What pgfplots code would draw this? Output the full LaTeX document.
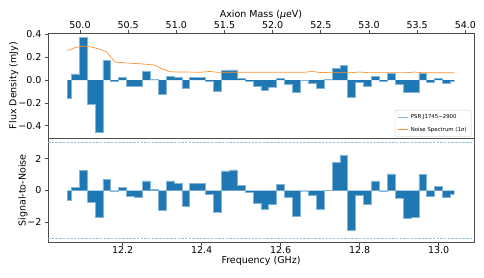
\documentclass[border=0pt]{standalone}
\usepackage{fontspec}
\setmainfont{DejaVu Sans}
\usepackage{pgfplots}
\pgfplotsset{compat=1.18}
\usepackage{pgfplotstable}
\definecolor{cz}{HTML}{1F77B4}
\definecolor{co}{HTML}{FF7F0E}

\pgfplotstableread{
f flux snr noise
12.06 -0.160 -0.62 0.257
12.08 0.053 0.20 0.285
12.10 0.375 1.27 0.298
12.12 -0.213 -0.72 0.290
12.14 -0.462 -1.69 0.272
12.16 0.172 0.70 0.245
12.18 -0.015 -0.07 0.158
12.20 0.023 0.20 0.152
12.22 -0.055 -0.35 0.147
12.24 -0.055 -0.41 0.143
12.26 0.076 0.60 0.138
12.28 0.005 0.07 0.132
12.30 -0.130 -1.27 0.098
12.32 0.035 0.60 0.073
12.34 0.020 0.43 0.070
12.36 -0.073 -0.97 0.070
12.38 0.025 0.47 0.069
12.40 0.025 0.47 0.069
12.42 -0.015 -0.22 0.075
12.44 -0.096 -1.35 0.068
12.46 0.085 1.23 0.068
12.48 0.088 1.29 0.068
12.50 0.015 0.32 0.068
12.52 -0.015 -0.14 0.068
12.54 -0.058 -0.80 0.068
12.56 -0.088 -1.16 0.068
12.58 -0.061 -0.87 0.068
12.60 0.015 0.39 0.068
12.62 -0.035 -0.45 0.068
12.64 -0.111 -1.62 0.068
12.66 -0.005 -0.03 0.068
12.68 -0.030 -0.30 0.075
12.70 -0.076 -1.18 0.066
12.72 0.002 0.03 0.065
12.74 0.102 1.75 0.065
12.76 0.130 2.19 0.065
12.78 -0.155 -2.48 0.065
12.80 -0.023 -0.28 0.070
12.82 -0.058 -0.87 0.065
12.84 0.030 0.60 0.065
12.86 -0.010 -0.07 0.065
12.88 0.055 1.04 0.065
12.90 -0.035 -0.47 0.065
12.92 -0.111 -1.77 0.065
12.94 -0.111 -1.67 0.070
12.96 0.055 1.00 0.064
12.98 -0.023 -0.37 0.064
13.00 0.012 0.24 0.064
13.02 -0.029 -0.41 0.064
13.04 -0.015 -0.24 0.064
}\data

\begin{document}
\begin{tikzpicture}
\path[use as bounding box] (0pt,0pt) rectangle (484pt,277pt);
\pgfplotsset{every axis/.append style={
  scale only axis, width=426pt,
  font=\fontsize{9.5}{11}\selectfont,
  axis line style={black!70, line width=0.7pt},
  tick style={black!70, line width=0.7pt},
  tick align=outside, major tick length=3.5pt,
  xmin=12.0109, xmax=13.0894}}
% top panel
\begin{axis}[at={(48pt,139pt)}, anchor=south west, height=105pt,
  ymin=-0.508, ymax=0.412,
  xtick=\empty, ytick pos=left,
  ytick={-0.4,-0.2,0,0.2,0.4},
  yticklabels={−0.4,−0.2,0.0,0.2,0.4},
  yticklabel style={inner sep=0pt, xshift=-2.8pt},
  ylabel={Flux Density (mJy)},
  ylabel style={at={(axis description cs:-0.0805,0.5)}, anchor=center, inner sep=0pt},
  legend style={at={(0.9937,0.0124)}, anchor=south east,
    font=\fontsize{5.4}{6.5}\selectfont, draw=black!20, rounded corners=1.5pt,
    inner xsep=2.5pt, inner ysep=2pt, row sep=3.2pt},
  legend cell align=left,
  legend image code/.code={\draw[#1] (0pt,0pt) -- (10.5pt,0pt);}]
\addplot[const plot mark mid, fill=cz, draw=none, forget plot] table[x=f,y=flux]{\data} \closedcycle;
\addplot[const plot mark mid, cz!55, line width=0.8pt] table[x=f,y=flux]{\data};
\addlegendentry{PSR J1745−2900}
\addplot[co!85, line width=0.7pt] table[x=f,y=noise]{\data};
\addlegendentry{Noise Spectrum (1\textit{σ})}
\end{axis}
% mass axis
\begin{axis}[at={(48pt,139pt)}, anchor=south west, height=105pt,
  xmin=49.668, xmax=54.09, ymin=0, ymax=1,
  axis x line*=top, axis y line=none,
  xtick={50,50.5,51,51.5,52,52.5,53,53.5,54},
  xticklabels={50.0,50.5,51.0,51.5,52.0,52.5,53.0,53.5,54.0},
  xticklabel style={inner sep=0pt, yshift=1pt},
  xlabel={Axion Mass (\textit{μ}eV)},
  xlabel style={at={(axis description cs:0.5,1.1686)}, anchor=center, inner sep=0pt}]
\addplot[draw=none] coordinates {(50,0.5)};
\end{axis}
% bottom panel
\begin{axis}[at={(48pt,34.3pt)}, anchor=south west, height=104.7pt,
  ymin=-3.28, ymax=3.30,
  xtick={12.2,12.4,12.6,12.8,13.0},
  xticklabels={12.2,12.4,12.6,12.8,13.0},
  xtick pos=bottom, ytick pos=left,
  ytick={-2,0,2}, yticklabels={−2,0,2},
  yticklabel style={inner sep=0pt, xshift=-2.8pt},
  xticklabel style={inner sep=0pt, yshift=-0.5pt},
  ylabel={Signal-to-Noise},
  ylabel style={at={(axis description cs:-0.0587,0.5)}, anchor=center, inner sep=0pt},
  xlabel={Frequency (GHz)},
  xlabel style={at={(axis description cs:0.5,-0.175)}, anchor=center, inner sep=0pt}]
\addplot[const plot mark mid, fill=cz, draw=none] table[x=f,y=snr]{\data} \closedcycle;
\addplot[const plot mark mid, cz!55, line width=0.8pt] table[x=f,y=snr]{\data};
\addplot[cz!45, line width=0.9pt, dash pattern=on 2.5pt off 1.2pt] coordinates {(12.0109,3) (13.0894,3)};
\addplot[cz!45, line width=0.9pt, dash pattern=on 2.5pt off 1.2pt] coordinates {(12.0109,-3) (13.0894,-3)};
\end{axis}
\end{tikzpicture}
\end{document}
